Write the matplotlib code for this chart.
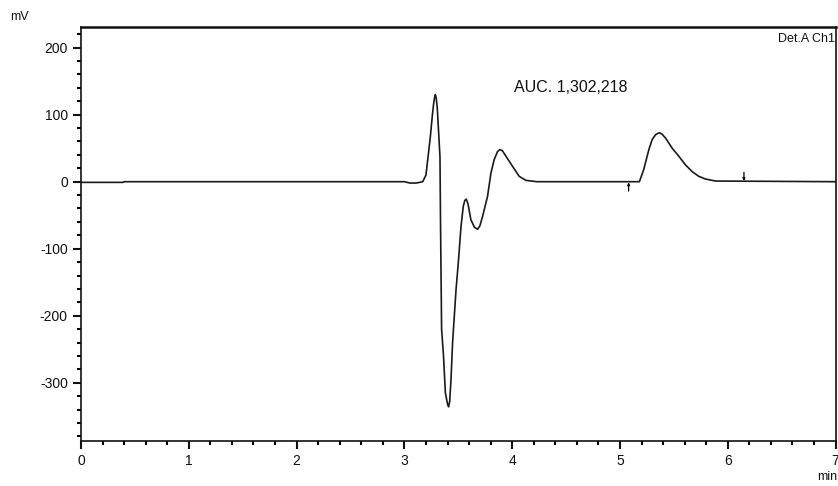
"""Chromatogram, Det.A Ch1, with integration markers and AUC note."""
import numpy as np
import matplotlib.pyplot as plt
from matplotlib.ticker import MultipleLocator

plt.rcParams["font.family"] = ["Liberation Sans", "DejaVu Sans"]
plt.rcParams["axes.unicode_minus"] = False

# trace (time in min, signal in mV)
time_min = [0.00, 0.39, 0.40, 3.00, 3.05, 3.11, 3.17, 3.20, 3.24, 3.26, 3.27,
            3.28, 3.287, 3.295, 3.305, 3.315, 3.33, 3.335, 3.345, 3.362, 3.38,
            3.40, 3.41, 3.42, 3.432, 3.447, 3.479, 3.50, 3.525, 3.546, 3.56,
            3.574, 3.59, 3.617, 3.65, 3.679, 3.70, 3.725, 3.771, 3.803, 3.833,
            3.864, 3.886, 3.91, 3.942, 4.003, 4.065, 4.127, 4.23, 5.18, 5.22,
            5.268, 5.299, 5.33, 5.35, 5.368, 5.39, 5.423, 5.484, 5.546, 5.608,
            5.67, 5.731, 5.793, 5.886, 7.00]
signal_mv = [-1, -1, 0, 0, -2, -2, 0, 10, 66, 100, 115,
             126, 130, 125, 110, 81, 37, -60, -220, -258, -315,
             -332, -336, -328, -296, -240, -161, -121, -67, -37, -28,
             -26, -33, -57, -68, -71, -66, -52, -22, 13, 33,
             45, 48, 46, 38, 23, 8, 2, 0, 0, 18,
             48, 63, 70, 72, 73, 71, 65, 50, 38, 25,
             15, 8, 4, 1, 0]

# integration start / end markers
mark_start = 5.08
mark_end = 6.15
auc_text = "AUC. 1,302,218"

fig = plt.figure(figsize=(8.38, 4.86), dpi=100)
ax = fig.add_axes([0.0967, 0.0926, 0.9004, 0.852])

ax.plot(time_min, signal_mv, color="#1a1a1a", lw=1.2)

# integration markers
ax.annotate("", xy=(mark_start, -1), xytext=(mark_start, -14),
            arrowprops=dict(arrowstyle="-|>", lw=0.9, mutation_scale=3.5,
                            color="black", shrinkA=0, shrinkB=0))
ax.annotate("", xy=(mark_end, 1), xytext=(mark_end, 14),
            arrowprops=dict(arrowstyle="-|>", lw=0.9, mutation_scale=3.5,
                            color="black", shrinkA=0, shrinkB=0))

ax.set_xlim(0, 7)
ax.set_ylim(-387, 231)
ax.xaxis.set_major_locator(MultipleLocator(1))
ax.xaxis.set_minor_locator(MultipleLocator(0.2))
ax.yaxis.set_major_locator(MultipleLocator(100))
ax.yaxis.set_minor_locator(MultipleLocator(20))
ax.tick_params(which="major", length=6, width=1.5, labelsize=10, colors="#111")
ax.tick_params(which="minor", length=3, width=1.5)
ax.tick_params(top=False, right=False)
for s in ax.spines.values():
    s.set_linewidth(1.2)
    s.set_color("#111")
ax.spines["top"].set_linewidth(1.8)
fig.canvas.draw()
ax.get_xticklabels()[-1].set_horizontalalignment("right")

ax.text(0.999, 0.985, "Det.A Ch1", transform=ax.transAxes, ha="right", va="top",
        fontsize=9, color="#111")
ax.text(4.02, 140, auc_text, fontsize=11.5, color="#111", va="center")
fig.text(10 / 838, 1 - 17 / 486, "mV", fontsize=9, va="center", color="#111")
fig.text(837 / 838, 1 - 477 / 486, "min", fontsize=9, va="center", ha="right", color="#111")

fig.savefig("out.png", dpi=100)
